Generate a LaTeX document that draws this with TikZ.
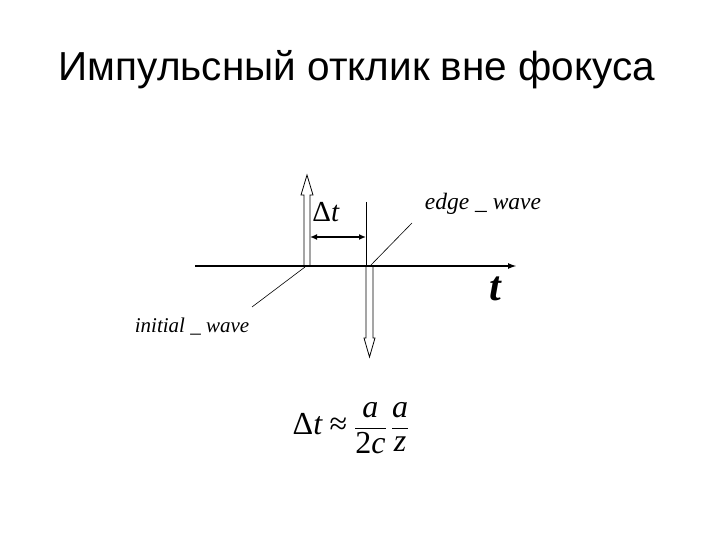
\documentclass[tikz,border=0pt]{standalone}
\usepackage{amsmath}
\usepackage{fontspec}
\setmainfont{Liberation Serif}
\newfontfamily\titlefont{Liberation Sans}
\usetikzlibrary{arrows.meta}

\begin{document}
\begin{tikzpicture}[x=1pt,y=-1pt]
        \useasboundingbox (0,0) rectangle (720,540);
        \node (title) at (357,70) {\titlefont\fontsize{40.5}{44}\selectfont Импульсный отклик вне фокуса};

        \coordinate (T0) at (195,266);
        \coordinate (T1) at (517,266);
        \coordinate (Pi) at (305,267);
        \coordinate (Li) at (252,307);
        \coordinate (Pe) at (370,266);
        \coordinate (Le) at (412,223);
        \coordinate (Ea) at (366,202);
        \coordinate (Eb) at (366,266);

        \node (dt) at (326,212) {\fontsize{29}{32}\selectfont Δ\textit{t}};
        \node (edge) at (483,204) {\fontsize{23.5}{26}\selectfont\itshape edge \_ wave};
        \node (init) at (192,327) {\fontsize{21}{24}\selectfont\itshape initial \_ wave};
        \node (t) at (495,289) {\fontsize{42}{44}\selectfont\bfseries\itshape t};
        \node (dtf) at (351,428) {\fontsize{32}{36}\selectfont
            $\text{Δ\textit{t}}\mathrel{\text{≈}}\dfrac{\textit{a}}{\text{2\textit{c}}}\,\dfrac{\textit{a}}{\textit{z}}$};

        \draw[line width=2pt,-{Latex[length=9pt,width=6pt]}] (T0) -- (T1);
        \draw[line width=0.8pt] (304,266) -- (304,195) -- (301,195) -- (307,175) -- (313,195) -- (310,195) -- (310,266);
        \draw[line width=0.8pt] (366,266) -- (366,338) -- (364,338) -- (369.5,357) -- (375,338) -- (373,338) -- (373,266);
        \draw[line width=0.8pt] (Ea) -- (Eb);
        \draw[line width=1.6pt,{Latex[length=7pt,width=6pt]}-{Latex[length=7pt,width=6pt]}] (310,237) -- (366,237);
        \draw[line width=0.6pt] (Pi) -- (Li);
        \draw[line width=0.6pt] (Pe) -- (Le);

    \end{tikzpicture}
\end{document}
